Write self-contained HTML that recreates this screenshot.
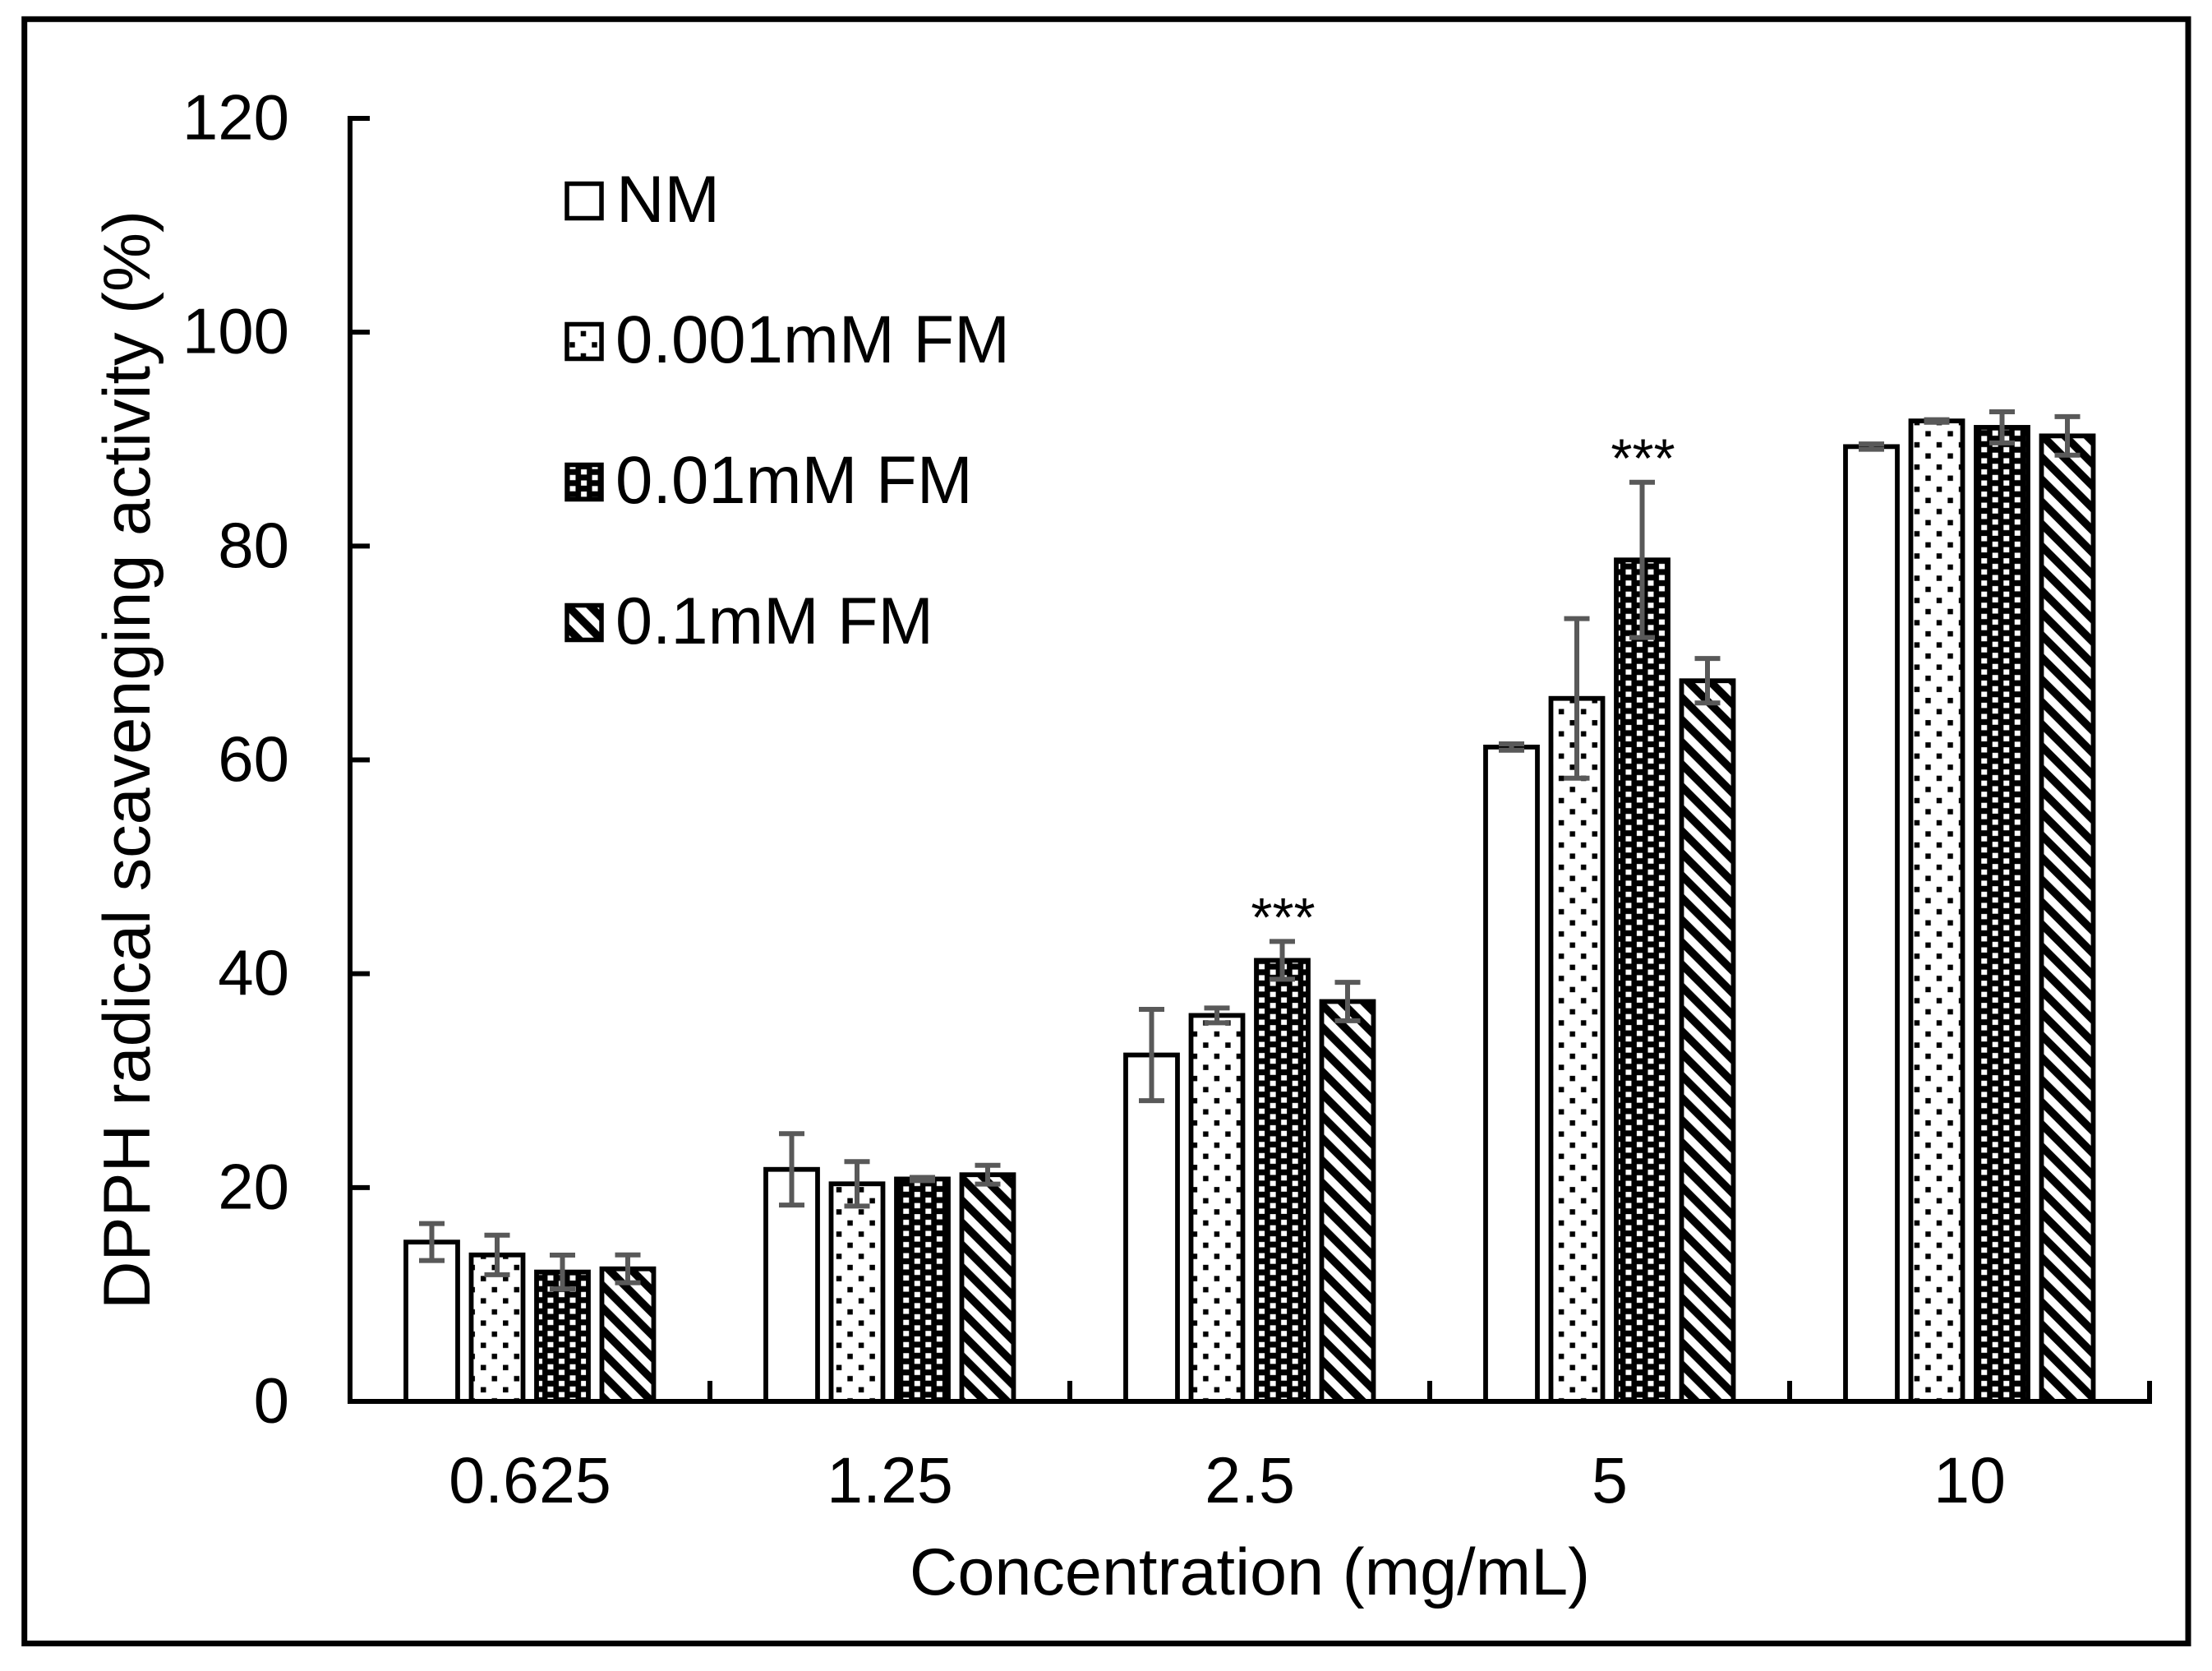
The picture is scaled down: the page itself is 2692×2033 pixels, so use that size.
<!DOCTYPE html>
<html lang="en">
<head>
<meta charset="utf-8">
<title>DPPH radical scavenging activity</title>
<style>
html,body{margin:0;padding:0;background:#fff;}
svg{display:block;}
text{font-family:"Liberation Sans",Arial,sans-serif;fill:#000;}
</style>
</head>
<body>
<svg id="chart" xmlns="http://www.w3.org/2000/svg" width="2692" height="2033" viewBox="0 0 2692 2033">
  <defs>
    <pattern id="pat-dots" patternUnits="userSpaceOnUse" x="581.5" y="1575.9" width="27.05" height="27.05">
      <rect x="0" y="0" width="27.05" height="27.05" fill="#fff"/>
      <rect x="3.5" y="3.5" width="6.5" height="6.5" fill="#000"/>
      <rect x="17" y="17" width="6.5" height="6.5" fill="#000"/>
    </pattern>
    <pattern id="pat-grid" patternUnits="userSpaceOnUse" x="1095.94" y="1443.2" width="27.05" height="13.525">
      <rect x="0" y="0" width="27.05" height="13.525" fill="#000"/>
      <rect x="3.3" y="0.2" width="7" height="6.4" fill="#fff"/>
      <rect x="16.9" y="6.9" width="7" height="6.4" fill="#fff"/>
    </pattern>
    <pattern id="pat-stripes" patternUnits="userSpaceOnUse" x="1630" y="1514" width="27.05" height="27.05">
      <rect x="0" y="0" width="27.05" height="27.05" fill="#fff"/>
      <path d="M-27.05,-27.05 L54.1,54.1 M-27.05,0 L27.05,54.1 M0,-27.05 L54.1,27.05" stroke="#000" stroke-width="9.6" fill="none"/>
    </pattern>
  </defs>

  <rect x="0" y="0" width="2692" height="2033" fill="#fff"/>
  <rect x="29.7" y="23.3" width="2633.3" height="1976.2" fill="none" stroke="#000" stroke-width="7"/>

  <g id="bars"></g>
  <g id="errors"></g>
  <g id="axes"></g>
  <g id="labels"></g>
  <g id="marks"></g>

  <text transform="translate(182,924.5) rotate(-90)" text-anchor="middle" font-size="81">DPPH radical scavenging activity (%)</text>
  <text x="1521" y="1940" text-anchor="middle" font-size="81">Concentration (mg/mL)</text>

  <g>
    <g>
      <rect x="690" y="223.5" width="42" height="42" fill="#fff" stroke="#000" stroke-width="5.5"/>
      <text x="750" y="270" font-size="81">NM</text>
    </g>
    <g>
      <rect x="690" y="394.5" width="42" height="42" fill="url(#pat-dots)" stroke="#000" stroke-width="5.5"/>
      <text x="749" y="441" font-size="81.5">0.001mM FM</text>
    </g>
    <g>
      <rect x="690" y="565.5" width="42" height="42" fill="url(#pat-grid)" stroke="#000" stroke-width="5.5"/>
      <text x="749" y="612" font-size="81.5">0.01mM FM</text>
    </g>
    <g>
      <rect x="690" y="736.5" width="42" height="42" fill="url(#pat-stripes)" stroke="#000" stroke-width="5.5"/>
      <text x="749" y="783" font-size="81">0.1mM FM</text>
    </g>
  </g>
</svg>

<script>
const categories = ['0.625', '1.25', '2.5', '5', '10'];
const yTicks = [0, 20, 40, 60, 80, 100, 120];
const valuesNM = [14.9, 21.7, 32.4, 61.2, 89.3];
const values001 = [13.7, 20.35, 36.1, 65.75, 91.7];
const values01 = [12.1, 20.8, 41.25, 78.7, 91.1];
const values1 = [12.4, 21.2, 37.4, 67.4, 90.3];
const errorsNM = [1.73, 3.34, 4.27, 0.3, 0.25];
const errors001 = [1.85, 2.08, 0.69, 7.46, 0.12];
const errors01 = [1.58, 0.15, 1.77, 7.26, 1.46];
const errors1 = [1.3, 0.88, 1.8, 2.08, 1.8];
const significantCategories = [2, 3];
const significanceLabel = '***';

const NS = 'http://www.w3.org/2000/svg';
const axisLeft = 426, axisRight = 2616, axisBottom = 1705, axisTop = 144, yMax = 120;
const seriesValues = [valuesNM, values001, values01, values1];
const seriesErrors = [errorsNM, errors001, errors01, errors1];
const seriesFills = ['#fff', 'url(#pat-dots)', 'url(#pat-grid)', 'url(#pat-stripes)'];
const seriesKeys = ['nm', '0-001mm', '0-01mm', '0-1mm'];
const seriesOffsets = [-119.5, -40, 39.5, 119];

function yScale(v) { return axisBottom - v * (axisBottom - axisTop) / yMax; }
function catWidth() { return (axisRight - axisLeft) / categories.length; }
function xCenter(i) { return axisLeft + catWidth() * (i + 0.5); }
function barX(i, s) { return xCenter(i) + seriesOffsets[s]; }

function make(tag, attrs, parent, text) {
  const el = document.createElementNS(NS, tag);
  for (const k in attrs) el.setAttribute(k, attrs[k]);
  if (text !== undefined) el.textContent = text;
  parent.appendChild(el);
  return el;
}

const barsG = document.getElementById('bars');
const errorsG = document.getElementById('errors');
const axesG = document.getElementById('axes');
const labelsG = document.getElementById('labels');
const marksG = document.getElementById('marks');

categories.forEach(function (cat, i) {
  seriesValues.forEach(function (vals, s) {
    const cx = barX(i, s);
    const top = yScale(vals[i]);
    const bar = make('rect', { x: cx - 31.5, y: top, width: 63, height: axisBottom - top, fill: seriesFills[s], stroke: '#000', 'stroke-width': 5.8 }, barsG);
    
    

    const e = seriesErrors[s][i];
    const hi = yScale(vals[i] + e);
    const lo = yScale(vals[i] - e);
    const path = make('path', { d: 'M' + (cx - 15.5) + ',' + hi + 'H' + (cx + 15.5) + 'M' + (cx - 15.5) + ',' + lo + 'H' + (cx + 15.5) + 'M' + cx + ',' + hi + 'V' + lo, stroke: '#595959', 'stroke-width': 6, fill: 'none' }, errorsG);
    
    
  });

  const label = make('text', { x: xCenter(i), y: 1828, 'text-anchor': 'middle', 'font-size': 79 }, labelsG, cat);
  
  
});

const yAxis = make('line', { x1: axisLeft, y1: axisTop - 3, x2: axisLeft, y2: axisBottom + 3, stroke: '#000', 'stroke-width': 6 }, axesG);



const xAxis = make('line', { x1: axisLeft - 3, y1: axisBottom, x2: axisRight + 3, y2: axisBottom, stroke: '#000', 'stroke-width': 6 }, axesG);



yTicks.forEach(function (t, i) {
  const y = yScale(t);
  const tick = make('line', { x1: axisLeft, y1: y, x2: axisLeft + 24, y2: y, stroke: '#000', 'stroke-width': 6 }, axesG);
  
  

  const label = make('text', { x: 352, y: y + 25.5, 'text-anchor': 'end', 'font-size': 78 }, labelsG, String(t));
  
  
});

for (let k = 1; k <= categories.length; k++) {
  const x = axisLeft + catWidth() * k;
  const tick = make('line', { x1: x, y1: axisBottom, x2: x, y2: axisBottom - 25, stroke: '#000', 'stroke-width': 6 }, axesG);
  
  
}

significantCategories.forEach(function (i) {
  const top = yScale(values01[i] + errors01[i]);
  const mark = make('text', { x: barX(i, 2) + 1, y: top - 6.5, 'text-anchor': 'middle', 'font-size': 67 }, marksG, significanceLabel);
  
  
});
</script>
</body>
</html>
